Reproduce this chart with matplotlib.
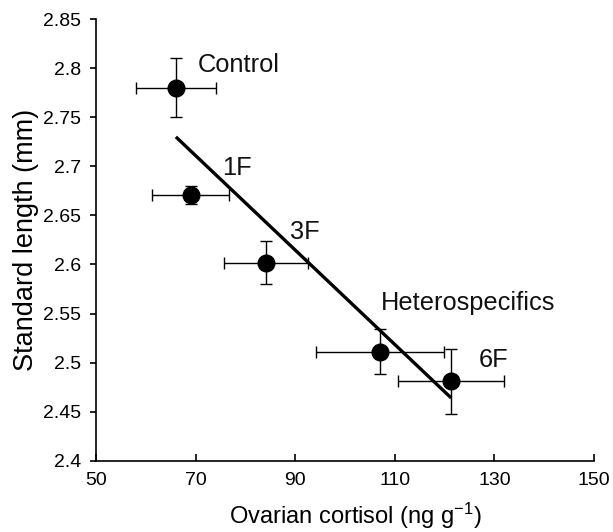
import numpy as np
import matplotlib
matplotlib.use('Agg')
import matplotlib.pyplot as plt

plt.rcParams['font.family'] = ['Liberation Sans', 'DejaVu Sans']
plt.rcParams['mathtext.fontset'] = 'custom'
plt.rcParams['mathtext.rm'] = 'Liberation Sans'
plt.rcParams['mathtext.it'] = 'Liberation Sans:italic'

# group means and errors
groups = ['Control', '1F', '3F', 'Heterospecifics', '6F']
cortisol = [66.0, 69.0, 84.1, 107.0, 121.3]
cortisol_err = [8.0, 7.7, 8.5, 12.8, 10.6]
length = [2.780, 2.671, 2.602, 2.511, 2.481]
length_err = [0.030, 0.009, 0.022, 0.023, 0.033]

# label anchors (left edge, vertical centre)
label_x = [70.4, 75.3, 89.0, 107.1, 126.9]
label_y = [2.803, 2.698, 2.633, 2.561, 2.503]

# fitted regression line end points
fit_x = [66.0, 121.3]
fit_y = [2.730, 2.464]

xticks = [50, 70, 90, 110, 130, 150]
yticks = [2.4, 2.45, 2.5, 2.55, 2.6, 2.65, 2.7, 2.75, 2.8, 2.85]
ytick_labels = ['2.4', '2.45', '2.5', '2.55', '2.6', '2.65', '2.7', '2.75', '2.8', '2.85']

fig = plt.figure(figsize=(6.13, 5.32), dpi=100)
ax = fig.add_axes([0.157, 0.134, 0.812, 0.83])

ax.plot(fit_x, fit_y, color='black', lw=2.4, solid_capstyle='butt', zorder=2)
ax.errorbar(cortisol, length, xerr=cortisol_err, yerr=length_err, fmt='o',
            color='black', ms=12, elinewidth=1.0, capsize=4.5, capthick=1.0, zorder=3)

for name, lx, ly in zip(groups, label_x, label_y):
    ax.text(lx, ly, name, fontsize=18.3, ha='left', va='center', color='#111111')

ax.set_xlim(50, 150)
ax.set_ylim(2.4, 2.85)
ax.set_xticks(xticks)
ax.set_yticks(yticks)
ax.set_yticklabels(ytick_labels)

for s in ['top', 'right']:
    ax.spines[s].set_visible(False)
for s in ['left', 'bottom']:
    ax.spines[s].set_linewidth(1.2)

ax.tick_params(axis='x', direction='in', length=5, width=1.2, pad=8, labelsize=14)
ax.tick_params(axis='y', direction='out', length=4.3, width=1.2, pad=6.5, labelsize=14)

ax.set_xlabel(r'Ovarian cortisol (ng g$^{\mathrm{-1}}$)', fontsize=17)
ax.set_ylabel('Standard length (mm)', fontsize=19.5)
ax.xaxis.set_label_coords(0.52, -0.09)
ax.yaxis.set_label_coords(-0.115, 0.5)

fig.savefig('out.png', dpi=100)
